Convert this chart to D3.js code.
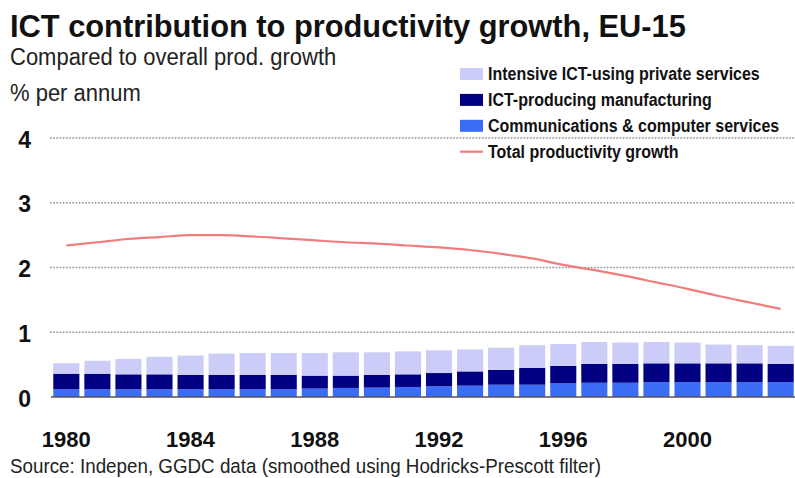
<!DOCTYPE html>
<html>
<head>
<meta charset="utf-8">
<script src="https://cdn.jsdelivr.net/npm/d3@7/dist/d3.min.js"></script>
<style>
  html, body { margin: 0; padding: 0; background: #ffffff; }
  svg { display: block; font-family: "Liberation Sans", Arial, sans-serif; }
</style>
</head>
<body>
<svg id="chart" width="795" height="478"></svg>
<script>
// Years on the category axis
const years = [1980, 1981, 1982, 1983, 1984, 1985, 1986, 1987, 1988, 1989, 1990, 1991,
               1992, 1993, 1994, 1995, 1996, 1997, 1998, 1999, 2000, 2001, 2002, 2003];

// Contribution to productivity growth, % per annum (stacked bottom to top)
const commServices = [0.12, 0.12, 0.12, 0.12, 0.12, 0.12, 0.12, 0.12, 0.13, 0.14, 0.145, 0.155,
                      0.165, 0.175, 0.19, 0.19, 0.21, 0.22, 0.22, 0.23, 0.23, 0.23, 0.23, 0.23];
const ictManufacturing = [0.24, 0.24, 0.23, 0.23, 0.22, 0.22, 0.22, 0.22, 0.20, 0.19, 0.195, 0.195,
                          0.205, 0.22, 0.23, 0.26, 0.27, 0.29, 0.29, 0.29, 0.29, 0.29, 0.29, 0.28];
const ictUsingServices = [0.16, 0.20, 0.24, 0.27, 0.30, 0.33, 0.34, 0.34, 0.35, 0.36, 0.35, 0.355,
                          0.35, 0.34, 0.34, 0.35, 0.34, 0.34, 0.33, 0.33, 0.32, 0.29, 0.28, 0.28];

// Total productivity growth, % per annum
const totalGrowth = [2.34, 2.39, 2.44, 2.47, 2.50, 2.50, 2.48, 2.45, 2.42, 2.39, 2.37, 2.34,
                     2.31, 2.27, 2.21, 2.14, 2.04, 1.96, 1.87, 1.77, 1.67, 1.56, 1.46, 1.36];

const yTicks = [0, 1, 2, 3, 4];
const xTickYears = [1980, 1984, 1988, 1992, 1996, 2000];

const seriesNames = ["Communications & computer services", "ICT-producing manufacturing",
                     "Intensive ICT-using private services"];
const seriesColors = ["#3b6cf6", "#000080", "#ccccf8"];
const lineColor = "#f07c7c";

const svg = d3.select("#chart");

const x = d3.scaleBand().domain(years).range([50.8, 796.2]).paddingInner(0.16).paddingOuter(0.08);
const y = d3.scaleLinear().domain([0, 4]).range([397, 138]);

// Slightly tall lettering, as in the printed chart
function tallText(sel, px, py, sy) {
  return sel.attr("transform", `translate(${px},${py}) scale(1,${sy})`).attr("x", 0).attr("y", 0);
}

// Y axis labels and dotted gridlines at each non-zero tick
const yAxis = d3.axisLeft(y).tickValues(yTicks).tickSize(0).tickFormat(d3.format("d"));
const gy = svg.append("g").attr("transform", "translate(31,0)").call(yAxis);
gy.select(".domain").remove();
gy.selectAll("text")
  .attr("x", 0).attr("dy", "0.4em")
  .style("font-size", "23px").style("font-weight", "bold").attr("fill", "#111");

svg.append("g").selectAll("line")
  .data(yTicks.filter(d => d > 0))
  .join("line")
  .attr("x1", 50).attr("x2", 795)
  .attr("y1", d => y(d)).attr("y2", d => y(d))
  .attr("stroke", "#8f8f8f").attr("stroke-width", 1.4)
  .attr("stroke-dasharray", "1.6,1.6");

// Stacked bars
const table = years.map((yr, i) => ({
  year: yr,
  comm: commServices[i],
  manu: ictManufacturing[i],
  using: ictUsingServices[i]
}));
const stack = d3.stack().keys(["comm", "manu", "using"]);
const layers = stack(table);

svg.append("g").selectAll("g")
  .data(layers)
  .join("g")
  .attr("fill", (d, i) => seriesColors[i])
  .selectAll("rect")
  .data(d => d)
  .join("rect")
  .attr("x", d => x(d.data.year))
  .attr("width", x.bandwidth())
  .attr("y", d => y(d[1]))
  .attr("height", d => y(d[0]) - y(d[1]));

// Baseline
svg.append("line")
  .attr("x1", 51).attr("x2", 795)
  .attr("y1", y(0)).attr("y2", y(0))
  .attr("stroke", "#555").attr("stroke-width", 1.5);

// Total productivity growth line
const line = d3.line()
  .x((d, i) => x(years[i]) + x.bandwidth() / 2)
  .y(d => y(d))
  .curve(d3.curveMonotoneX);
svg.append("path")
  .datum(totalGrowth)
  .attr("d", line)
  .attr("fill", "none")
  .attr("stroke", lineColor)
  .attr("stroke-width", 2.2);

// X axis labels
const xAxis = d3.axisBottom(x).tickValues(xTickYears).tickSize(0);
const gx = svg.append("g").attr("transform", `translate(0,${y(0)})`).call(xAxis);
gx.select(".domain").remove();
gx.selectAll("text")
  .attr("y", 50).attr("dy", 0)
  .style("font-size", "22px").style("font-weight", "bold").attr("fill", "#111");

// Titles
svg.append("text").attr("x", 10).attr("y", 37)
  .style("font-size", "30.8px").style("font-weight", "bold").attr("fill", "#111")
  .text("ICT contribution to productivity growth, EU-15");
tallText(svg.append("text"), 10, 65, 1.1)
  .style("font-size", "22px").attr("fill", "#222")
  .text("Compared to overall prod. growth");
tallText(svg.append("text"), 10, 101, 1.1)
  .style("font-size", "22px").attr("fill", "#222")
  .text("% per annum");

// Source note
tallText(svg.append("text"), 10, 473, 1.1)
  .style("font-size", "18.8px").attr("fill", "#222")
  .text("Source: Indepen, GGDC data (smoothed using Hodricks-Prescott filter)");

// Legend
const legendItems = [
  { name: seriesNames[2], color: seriesColors[2], type: "rect" },
  { name: seriesNames[1], color: seriesColors[1], type: "rect" },
  { name: seriesNames[0], color: seriesColors[0], type: "rect" },
  { name: "Total productivity growth", color: lineColor, type: "line" }
];
const lg = svg.append("g").selectAll("g")
  .data(legendItems)
  .join("g")
  .attr("transform", (d, i) => `translate(460,${74 + i * 25.9})`);
lg.filter(d => d.type === "rect").append("rect")
  .attr("x", 0).attr("y", -6).attr("width", 23).attr("height", 12)
  .attr("fill", d => d.color);
lg.filter(d => d.type === "line").append("line")
  .attr("x1", 0).attr("x2", 23).attr("y1", 0).attr("y2", 0)
  .attr("stroke", d => d.color).attr("stroke-width", 2.2);
lg.append("text")
  .attr("transform", "translate(28,6) scale(1,1.1)")
  .style("font-size", "16px").style("font-weight", "bold").attr("fill", "#111")
  .text(d => d.name);
</script>
</body>
</html>
